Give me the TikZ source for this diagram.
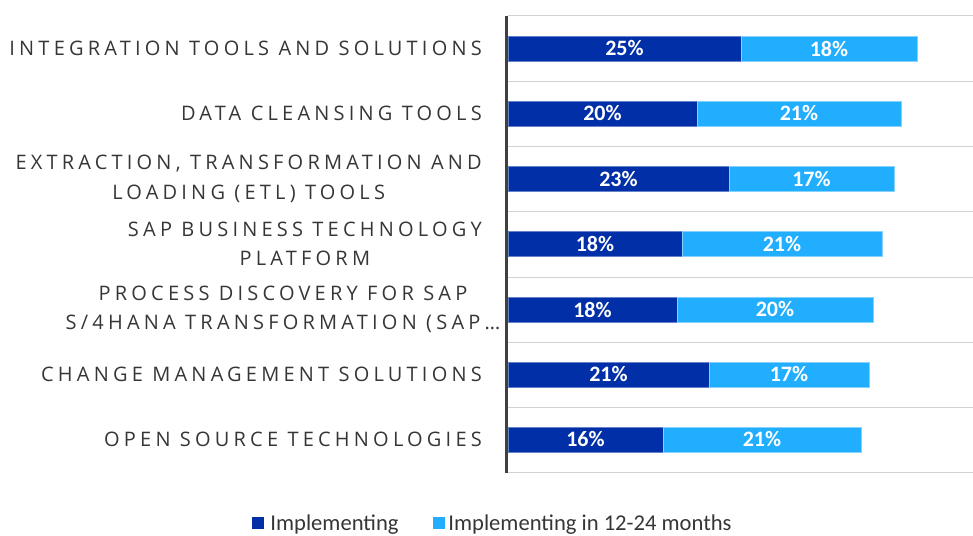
\documentclass[tikz,border=0pt]{standalone}
\usepackage{fontspec}
\setmainfont{Carlito}
\newfontfamily\spacedfont[LetterSpace=21]{Open Sans}
\usetikzlibrary{positioning}
\definecolor{implblue}{HTML}{002FA8}
\definecolor{planblue}{HTML}{22AEFF}
\definecolor{axisgray}{HTML}{404040}
\definecolor{textgray}{HTML}{363636}
\tikzstyle{bar} = [rectangle, inner sep=0pt, outer sep=0pt, minimum height=25pt, text=white, font=\bfseries\fontsize{22}{25}\selectfont, line width=0.6pt]
\tikzstyle{impl} = [bar, fill=implblue, draw=implblue!60!white, anchor=west]
\tikzstyle{plan} = [bar, fill=planblue, draw=planblue!55!white]
\tikzstyle{rowname} = [anchor=east, align=center, text=textgray, inner sep=0pt, font=\spacedfont\fontsize{20}{29.5}\selectfont]
\tikzstyle{gridline} = [line width=1pt, color=gray!35]
\tikzstyle{axisline} = [line width=3pt, color=axisgray]
\tikzstyle{swatch} = [rectangle, minimum size=12pt, inner sep=0pt]
\tikzstyle{legend} = [anchor=west, inner sep=0pt, text=textgray, text height=14pt, text depth=0pt, font=\fontsize{22.6}{26}\selectfont]

\begin{document}
\begin{tikzpicture}[x=1pt, y=-1pt]
 \useasboundingbox (0,0) rectangle (973,535);

 \draw [gridline] (508,16) -- (973,16);
 \draw [gridline] (508,81) -- (973,81);
 \draw [gridline] (508,146) -- (973,146);
 \draw [gridline] (508,211) -- (973,211);
 \draw [gridline] (508,277) -- (973,277);
 \draw [gridline] (508,342) -- (973,342);
 \draw [gridline] (508,407) -- (973,407);
 \draw [gridline] (508,472) -- (973,472);

 \node (impl1) [impl, minimum width=233pt] at (508,48.5) {25\%};
 \node (plan1) [plan, minimum width=176pt, right=0pt of impl1] {18\%};
 \node (impl2) [impl, minimum width=189pt] at (508,113.5) {20\%};
 \node (plan2) [plan, minimum width=204pt, right=0pt of impl2] {21\%};
 \node (impl3) [impl, minimum width=221pt] at (508,179) {23\%};
 \node (plan3) [plan, minimum width=165pt, right=0pt of impl3] {17\%};
 \node (impl4) [impl, minimum width=174pt] at (508,244) {18\%};
 \node (plan4) [plan, minimum width=200pt, right=0pt of impl4] {21\%};
 \node (impl5) [impl, minimum width=169pt] at (508,309.5) {18\%};
 \node (plan5) [plan, minimum width=196pt, right=0pt of impl5] {20\%};
 \node (impl6) [impl, minimum width=201pt] at (508,374.5) {21\%};
 \node (plan6) [plan, minimum width=160pt, right=0pt of impl6] {17\%};
 \node (impl7) [impl, minimum width=155pt] at (508,439.5) {16\%};
 \node (plan7) [plan, minimum width=198pt, right=0pt of impl7] {21\%};

 \draw [axisline] (506.5,16) -- (506.5,473);

 \node (name1) [rowname] at (482,48.5) {INTEGRATION TOOLS AND SOLUTIONS};
 \node (name2) [rowname] at (482,113.5) {DATA CLEANSING TOOLS};
 \node (name3) [rowname] at (482,179) {EXTRACTION, TRANSFORMATION AND\\LOADING (ETL) TOOLS};
 \node (name4) [rowname] at (482,244) {SAP BUSINESS TECHNOLOGY\\PLATFORM};
 \node (name5) [rowname, anchor=center] at (283,309.5) {PROCESS DISCOVERY FOR SAP\\S/4HANA TRANSFORMATION (SAP…};
 \node (name6) [rowname] at (482,374.5) {CHANGE MANAGEMENT SOLUTIONS};
 \node (name7) [rowname] at (482,439.5) {OPEN SOURCE TECHNOLOGIES};

 \node (implkey) [swatch, fill=implblue] at (258,523) {};
 \node (implname) [legend, right=6pt of implkey] {Implementing};
 \node (plankey) [swatch, fill=planblue] at (439,523) {};
 \node (planname) [legend, right=3pt of plankey] {Implementing in 12-24 months};

\end{tikzpicture}
\end{document}
